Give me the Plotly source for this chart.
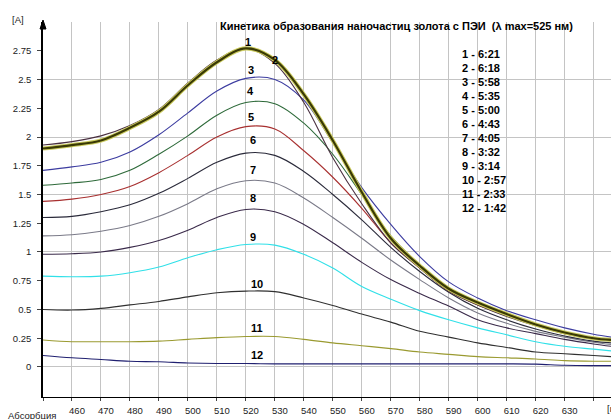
import plotly.graph_objects as go

# wavelengths, nm
wavelengths = [450, 460, 470, 480, 490, 500, 510, 520, 530, 540, 550, 560, 570,
               580, 590, 600, 610, 620, 630, 640, 646]

# absorbance series (curve number -> values)
c1 = [1.93, 1.96, 2.01, 2.10, 2.24, 2.47, 2.67, 2.77, 2.64, 2.30, 1.82, 1.42, 1.08, 0.86, 0.66, 0.54, 0.44, 0.36, 0.29, 0.245, 0.23]
c2 = [1.90, 1.93, 1.97, 2.08, 2.22, 2.45, 2.65, 2.77, 2.67, 2.37, 1.97, 1.52, 1.12, 0.88, 0.68, 0.56, 0.46, 0.37, 0.30, 0.25, 0.235]
c3 = [1.71, 1.74, 1.78, 1.87, 2.02, 2.21, 2.40, 2.51, 2.50, 2.32, 1.95, 1.56, 1.24, 0.96, 0.74, 0.60, 0.49, 0.41, 0.34, 0.285, 0.26]
c4 = [1.58, 1.60, 1.63, 1.71, 1.85, 2.01, 2.19, 2.30, 2.29, 2.12, 1.85, 1.50, 1.14, 0.89, 0.69, 0.56, 0.46, 0.37, 0.30, 0.25, 0.235]
c5 = [1.44, 1.46, 1.50, 1.57, 1.69, 1.84, 2.00, 2.09, 2.07, 1.88, 1.65, 1.38, 1.08, 0.86, 0.66, 0.54, 0.45, 0.36, 0.29, 0.245, 0.23]
c6 = [1.30, 1.31, 1.35, 1.41, 1.51, 1.64, 1.78, 1.86, 1.84, 1.70, 1.50, 1.28, 1.04, 0.83, 0.65, 0.51, 0.41, 0.33, 0.27, 0.225, 0.21]
c7 = [1.14, 1.15, 1.18, 1.23, 1.31, 1.42, 1.55, 1.62, 1.60, 1.47, 1.30, 1.12, 0.93, 0.76, 0.60, 0.47, 0.38, 0.31, 0.26, 0.215, 0.195]
c8 = [0.98, 0.985, 1.00, 1.04, 1.10, 1.19, 1.30, 1.37, 1.35, 1.24, 1.08, 0.91, 0.76, 0.64, 0.53, 0.41, 0.34, 0.29, 0.24, 0.20, 0.18]
c9 = [0.79, 0.785, 0.79, 0.82, 0.87, 0.95, 1.02, 1.065, 1.06, 0.98, 0.86, 0.70, 0.59, 0.49, 0.41, 0.34, 0.28, 0.22, 0.18, 0.155, 0.14]
c10 = [0.50, 0.495, 0.51, 0.54, 0.57, 0.61, 0.645, 0.66, 0.655, 0.60, 0.535, 0.46, 0.39, 0.31, 0.26, 0.21, 0.17, 0.13, 0.115, 0.10, 0.09]
c11 = [0.235, 0.22, 0.22, 0.22, 0.225, 0.24, 0.255, 0.265, 0.265, 0.24, 0.21, 0.185, 0.16, 0.13, 0.11, 0.09, 0.08, 0.07, 0.055, 0.05, 0.05]
c12 = [0.10, 0.08, 0.065, 0.05, 0.045, 0.035, 0.03, 0.03, 0.027, 0.027, 0.027, 0.027, 0.027, 0.027, 0.027, 0.027, 0.027, 0.025, 0.015, 0.012, 0.012]

series = [c1, c2, c3, c4, c5, c6, c7, c8, c9, c10, c11, c12]
curve_names = [str(i) for i in range(1, 13)]
times = ["6:21", "6:18", "5:58", "5:35", "5:00", "4:43", "4:05", "3:32", "3:14", "2:57", "2:33", "1:42"]
colors = ["#4a3040", "#3a3a05", "#3c3ca0", "#2e6a3a", "#a83030", "#2a2a3a",
          "#7a7a88", "#3a2a4a", "#30e0e8", "#303030", "#9a9a30", "#202070"]

# curve-number label anchors (nm, absorbance)
label_x = [520.7, 530.0, 521.7, 521.7, 521.7, 522.4, 522.4, 522.4, 522.4, 523.8, 523.8, 523.8]
label_y = [2.83, 2.67, 2.58, 2.40, 2.17, 1.97, 1.71, 1.47, 1.13, 0.72, 0.34, 0.10]

x_ticks = list(range(450, 641, 10))
x_ticktext = ["" if (v == 450 or v == 640) else str(v) for v in x_ticks]
y_ticks = [0, 0.25, 0.5, 0.75, 1, 1.25, 1.5, 1.75, 2, 2.25, 2.5, 2.75]
y_ticktext = ["0", "0.25", "0.5", "0.75", "1", "1.25", "1.5", "1.75", "2", "2.25", "2.5", "2.75"]

fig = go.Figure()

# invisible host trace for the grid axis
fig.add_trace(go.Scatter(x=[wavelengths[0]], y=[0], yaxis="y2", mode="markers",
                         marker=dict(opacity=0), hoverinfo="skip", showlegend=False))

order = [11, 10, 9, 8, 7, 6, 5, 4, 3, 2, 0]
for i in order:
    fig.add_trace(go.Scatter(x=wavelengths, y=series[i], mode="lines",
                             line=dict(color=colors[i], width=1.1, shape="spline", smoothing=1.0),
                             name=curve_names[i], showlegend=False))
# thick curve 2 with halo
fig.add_trace(go.Scatter(x=wavelengths, y=series[1], mode="lines",
                         line=dict(color="#cccc60", width=4.2, shape="spline", smoothing=1.0),
                         showlegend=False, hoverinfo="skip"))
fig.add_trace(go.Scatter(x=wavelengths, y=series[1], mode="lines",
                         line=dict(color=colors[1], width=2.2, shape="spline", smoothing=1.0),
                         name=curve_names[1], showlegend=False))

tick_font = dict(family="Liberation Sans", size=9.5, color="#222")

fig.update_layout(
    width=611, height=419,
    margin=dict(l=43, r=0, t=22, b=22),
    paper_bgcolor="white", plot_bgcolor="white",
    showlegend=False,
    xaxis=dict(range=[450, 646], tickvals=x_ticks, ticktext=x_ticktext,
               showgrid=True, gridcolor="#c4c4c4", gridwidth=1,
               ticks="outside", ticklen=3, tickcolor="#444",
               showline=True, linecolor="black", linewidth=1,
               zeroline=False, tickfont=tick_font, ticklabelshift=5, ticklabelstandoff=2),
    yaxis=dict(range=[-0.261, 3.0], tickvals=y_ticks, ticktext=y_ticktext,
               showgrid=False, ticks="outside", ticklen=4, tickcolor="#444",
               showline=True, linecolor="black", linewidth=1.5,
               zeroline=False, tickfont=tick_font, ticklabelstandoff=4),
    yaxis2=dict(range=[-0.261, 3.0], overlaying="y", tick0=0, dtick=0.5,
                showgrid=True, gridcolor="#c4c4c4", gridwidth=1,
                showticklabels=False, ticks="", showline=False, zeroline=False),
)

annotations = []
bold = dict(family="Liberation Sans, Arial", size=11, color="black")
annotations.append(dict(text="<b>Кинетика образования наночастиц золота с ПЭИ  (λ max=525 нм)</b>",
                        xref="paper", yref="paper", x=(218 - 43) / 568, y=(397 - 26) / 375,
                        xanchor="left", yanchor="middle", showarrow=False, font=bold))
for k in range(12):
    annotations.append(dict(text=f"<b>{curve_names[k]} - {times[k]}</b>",
                            xref="paper", yref="paper", x=(460 - 43) / 568,
                            y=(397 - (54 + 14.0 * k)) / 375,
                            xanchor="left", yanchor="middle", showarrow=False, font=bold))
for k in range(12):
    annotations.append(dict(text=f"<b>{curve_names[k]}</b>", x=label_x[k], y=label_y[k],
                            xref="x", yref="y", xanchor="center", yanchor="middle",
                            showarrow=False, font=bold))
small = dict(family="Liberation Sans", size=9.5, color="#222")
annotations.append(dict(text="[A]", xref="paper", yref="paper", x=(18 - 43) / 568, y=(397 - 20) / 375,
                        xanchor="center", yanchor="middle", showarrow=False, font=small))
annotations.append(dict(text="Абсорбция", xref="paper", yref="paper", x=(6 - 43) / 568, y=(397 - 408) / 375,
                        xanchor="left", yanchor="top", showarrow=False, font=small))
annotations.append(dict(text="[nm]", xref="paper", yref="paper", x=(605 - 43) / 568, y=(397 - 401) / 375,
                        xanchor="left", yanchor="top", showarrow=False, font=small))
fig.update_layout(annotations=annotations)

# small arrowhead at the top of the y axis
fig.add_shape(type="path", xref="paper", yref="paper", xsizemode="pixel", ysizemode="pixel",
              xanchor=0, yanchor=1, path="M -3 -7 L 3 -7 L 0 2 Z",
              fillcolor="black", line=dict(color="black", width=1))

fig.write_html("out.html", config={"displayModeBar": False},
               post_script="document.body.style.margin='0';document.body.style.overflow='hidden';")
